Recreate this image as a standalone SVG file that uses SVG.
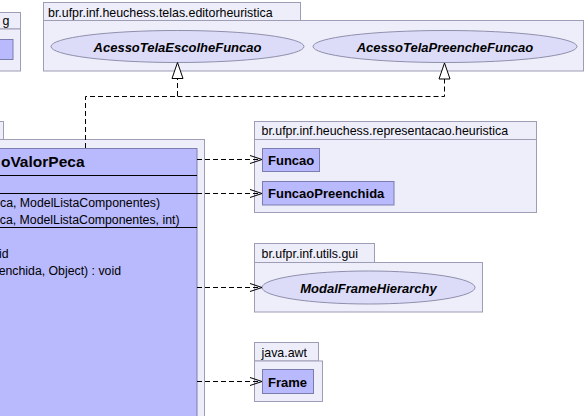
<svg xmlns="http://www.w3.org/2000/svg" width="587" height="416" viewBox="0 0 587 416">
<style>
.pkg{fill:#eeeefb;stroke:#9d9db5;stroke-width:1}
.cls{fill:#b9bafd;stroke:#7c7cae;stroke-width:1}
.uc{fill:#dcdcf9;stroke:#8f8fac;stroke-width:1}
.sep{stroke:#000;stroke-width:1}
.lbl{font-family:"Liberation Sans",Arial,sans-serif;font-size:12.4px;fill:#000}
.mem{font-family:"Liberation Sans",Arial,sans-serif;font-size:12.3px;fill:#000}
.bold{font-family:"Liberation Sans",Arial,sans-serif;font-size:13px;font-weight:bold;fill:#000}
.ital{font-family:"Liberation Sans",Arial,sans-serif;font-size:13px;font-weight:bold;font-style:italic;fill:#000}
.title{font-family:"Liberation Sans",Arial,sans-serif;font-size:15.5px;font-weight:bold;fill:#000}
.dep{fill:none;stroke:#000;stroke-width:1;stroke-dasharray:5,3}
.head{fill:none;stroke:#000;stroke-width:1}
.tri{fill:#fff;stroke:#000;stroke-width:1}
</style>
<rect width="587" height="416" fill="#fff"/>

<g id="pkg-left">
<rect class="pkg" x="-2" y="12.5" width="22.5" height="16.5"/>
<rect class="pkg" x="-2" y="29" width="22.5" height="42"/>
<text class="lbl" x="9.5" y="25" text-anchor="end">g</text>
<rect class="cls" x="-2" y="39.5" width="15" height="20"/>
</g>

<g id="pkg-editorheuristica">
<rect class="pkg" x="43.5" y="2.5" width="257" height="18"/>
<rect class="pkg" x="43.5" y="20.5" width="540" height="50.5"/>
<text class="lbl" x="48" y="16.5">br.ufpr.inf.heuchess.telas.editorheuristica</text>
<g id="AcessoTelaEscolheFuncao">
<ellipse class="uc" cx="177.5" cy="46.5" rx="126.5" ry="16"/>
<text class="ital" x="177.5" y="51.5" text-anchor="middle">AcessoTelaEscolheFuncao</text>
</g>
<g id="AcessoTelaPreencheFuncao">
<ellipse class="uc" cx="445" cy="46.5" rx="132" ry="16"/>
<text class="ital" x="445" y="51.5" text-anchor="middle">AcessoTelaPreencheFuncao</text>
</g>
</g>

<g id="pkg-main">
<rect class="pkg" x="-2" y="121.5" width="5.5" height="18"/>
<rect class="pkg" x="-2" y="139.5" width="206.5" height="290"/>
<g id="DialogoValorPeca">
<rect class="cls" x="-2" y="148.5" width="199" height="280"/>
<text class="title" x="84.5" y="166.5" text-anchor="end">oValorPeca</text>
<line class="sep" x1="-2" y1="175.5" x2="197" y2="175.5"/>
<line class="sep" x1="-2" y1="193.5" x2="197" y2="193.5"/>
<text class="mem" x="160" y="206.5" text-anchor="end">ca, ModelListaComponentes)</text>
<text class="mem" x="179.5" y="223.5" text-anchor="end">ca, ModelListaComponentes, int)</text>
<line class="sep" x1="-2" y1="227.5" x2="197" y2="227.5"/>
<text class="mem" x="8.5" y="257.5" text-anchor="end">id</text>
<text class="mem" x="121" y="275" text-anchor="end">enchida, Object) : void</text>
</g>
</g>

<g id="pkg-representacao">
<rect class="pkg" x="254.5" y="121.5" width="282" height="18"/>
<rect class="pkg" x="254.5" y="139.5" width="282" height="73"/>
<text class="lbl" x="261.5" y="135">br.ufpr.inf.heuchess.representacao.heuristica</text>
<g id="Funcao">
<rect class="cls" x="262.5" y="148.5" width="57" height="23"/>
<text class="bold" x="268" y="164.5">Funcao</text>
</g>
<g id="FuncaoPreenchida">
<rect class="cls" x="262.5" y="181.5" width="131.5" height="23.5"/>
<text class="bold" x="268" y="197.5">FuncaoPreenchida</text>
</g>
</g>

<g id="pkg-utils-gui">
<rect class="pkg" x="254.5" y="243.5" width="120" height="19"/>
<rect class="pkg" x="254.5" y="262.5" width="228" height="49.5"/>
<text class="lbl" x="261.5" y="258">br.ufpr.inf.utils.gui</text>
<g id="ModalFrameHierarchy">
<ellipse class="uc" cx="368.5" cy="287.5" rx="106.5" ry="16.5"/>
<text class="ital" x="368.5" y="292.5" text-anchor="middle">ModalFrameHierarchy</text>
</g>
</g>

<g id="pkg-java-awt">
<rect class="pkg" x="254.5" y="342.5" width="64" height="18.5"/>
<rect class="pkg" x="254.5" y="361" width="68" height="40.5"/>
<text class="lbl" x="261.5" y="357">java.awt</text>
<g id="Frame">
<rect class="cls" x="262.5" y="369.5" width="51" height="24"/>
<text class="bold" x="268" y="386.5">Frame</text>
</g>
</g>

<g id="connectors">
<path class="dep" d="M85.5 148 V96.5 H177.5 V79"/>
<path class="dep" d="M177.5 96.5 H444.5 V79"/>
<polygon class="tri" points="177.5,62.5 172,78.5 183,78.5"/>
<polygon class="tri" points="444.5,63 439,79 450,79"/>

<path class="dep" d="M197 159.5 H261"/>
<path class="head" d="M250 155.5 L262 159.5 L250 163.5"/>
<path class="dep" d="M197 193.5 H261"/>
<path class="head" d="M250 189.5 L262 193.5 L250 197.5"/>
<path class="dep" d="M197 287.5 H261"/>
<path class="head" d="M250 283.5 L262 287.5 L250 291.5"/>
<path class="dep" d="M197 381.5 H261"/>
<path class="head" d="M250 377.5 L262 381.5 L250 385.5"/>
</g>
</svg>
